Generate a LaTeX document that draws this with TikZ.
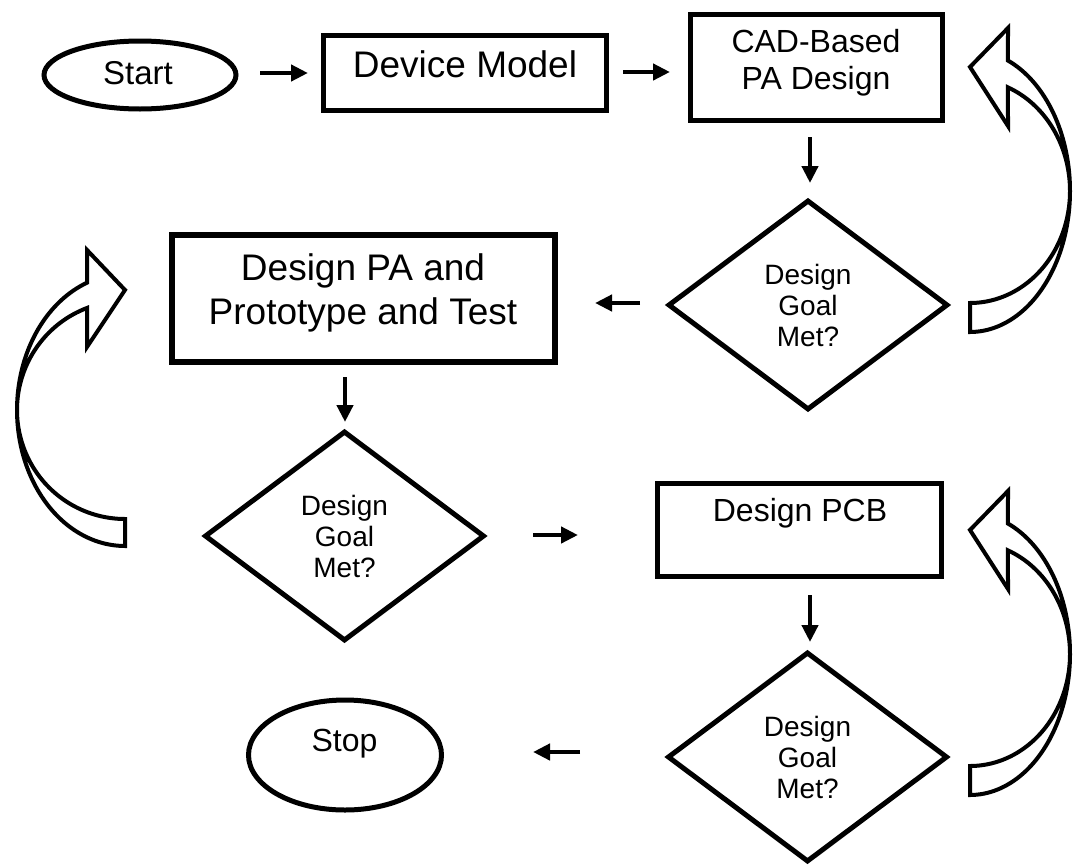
\documentclass[tikz,border=0pt]{standalone}
\usepackage{fontspec}
\setmainfont{Liberation Sans}
\usetikzlibrary{shapes.geometric,arrows.meta}
\newcommand\fsz[2]{\fontsize{#1pt}{#2pt}\selectfont}
\begin{document}
\begin{tikzpicture}[x=1pt,y=-1pt,
  boxshape/.style={draw, line width=5.5pt, rectangle, inner sep=0pt},
  termshape/.style={draw, line width=5pt, ellipse, inner sep=0pt},
  decshape/.style={draw, line width=5pt, diamond, inner sep=0pt, align=center,
    font=\fsz{28}{31}, minimum width=280, minimum height=210},
  lbl/.style={inner sep=0pt, align=center},
  flow/.style={line width=4.5pt, -{Triangle[length=17pt,width=16pt]}},
  uturn/.style={draw, line width=4pt, fill=white, line join=miter}
]
\useasboundingbox (0,0) rectangle (1073,865);

% terminals
\node[termshape, minimum width=192, minimum height=68] (start) at (140,75) {};
\node[lbl, font=\fsz{33}{38}, anchor=base] (startt) at (138,84) {Start};
\node[termshape, minimum width=193, minimum height=110] (stop) at (345,755) {};
\node[lbl, font=\fsz{32}{37}, anchor=base] (stopt) at (344.5,751) {Stop};

% process boxes
\node[boxshape, minimum width=283, minimum height=75] (dm) at (465,73) {};
\node[lbl, font=\fsz{37}{44}, anchor=base] (dmt) at (465,77) {Device Model};
\node[boxshape, minimum width=252, minimum height=106] (cad) at (816.5,67.5) {};
\node[lbl, font=\fsz{32}{37}] (cadt) at (816,63) {CAD-Based\\PA Design};
\node[boxshape, minimum width=383, minimum height=127] (pa) at (363.5,298.5) {};
\node[lbl, font=\fsz{37}{44}] (pat) at (363,292.5) {Design PA and\\Prototype and Test};
\node[boxshape, minimum width=284, minimum height=93] (pcb) at (799.5,530) {};
\node[lbl, font=\fsz{32}{37}, anchor=base] (pcbt) at (800,521) {Design PCB};

% decisions
\node[decshape] (d1) at (808,305) {Design\\Goal\\Met?};
\node[decshape] (d2) at (344.5,536) {Design\\Goal\\Met?};
\node[decshape] (d3) at (807.5,757) {Design\\Goal\\Met?};

% straight arrows (free-standing, as in the figure)
\coordinate (a1s) at (260,73);  \coordinate (a1e) at (308,73);
\coordinate (a2s) at (623,72);  \coordinate (a2e) at (670,72);
\coordinate (a3s) at (810,137); \coordinate (a3e) at (810,183);
\coordinate (a4s) at (640,303); \coordinate (a4e) at (595,303);
\coordinate (a5s) at (345,377); \coordinate (a5e) at (345,422);
\coordinate (a6s) at (533,535); \coordinate (a6e) at (578,535);
\coordinate (a7s) at (810,595); \coordinate (a7e) at (810,642);
\coordinate (a8s) at (580,752); \coordinate (a8e) at (533,752);
\foreach \i in {1,...,8} { \draw[flow] (a\i s) -- (a\i e); }

% curved block arrows
\draw[uturn] plot[domain=90:-67.7, samples=80] ({970+100*cos(\x)},{191+141*sin(\x)})
  -- (1008,28) -- (970,67) -- (1008,126)
  -- plot[domain=-67.7:90, samples=80] ({970+100*cos(\x)},{191+112*sin(\x)}) -- cycle;
\draw[uturn] plot[domain=90:-67.7, samples=80] ({970+100*cos(\x)},{654+141*sin(\x)})
  -- (1008,491) -- (970,530) -- (1008,589)
  -- plot[domain=-67.7:90, samples=80] ({970+100*cos(\x)},{654+112*sin(\x)}) -- cycle;
\draw[uturn] plot[domain=90:249.4, samples=80] ({125+108*cos(\x)},{410+136*sin(\x)})
  -- (87,250) -- (125,290) -- (87,347)
  -- plot[domain=249.4:90, samples=80] ({125+108*cos(\x)},{410+109*sin(\x)}) -- cycle;
\end{tikzpicture}
\end{document}
